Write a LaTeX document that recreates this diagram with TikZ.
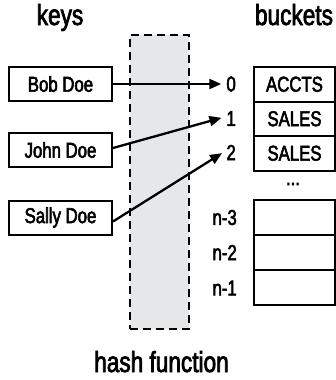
\documentclass[tikz,border=0pt]{standalone}
\usepackage{fontspec}
\setmainfont{Liberation Sans}[FakeStretch=0.78,FakeBold=2.5]
\usetikzlibrary{arrows.meta}
\definecolor{hashgray}{HTML}{E6E7E8}
\begin{document}
\begin{tikzpicture}[x=1pt,y=-1pt,
  keybox/.style={draw,line width=2pt,minimum width=103pt,minimum height=34pt,inner sep=0pt,font=\fontsize{21.5}{23}\selectfont},
  bucket/.style={draw,line width=2pt,minimum width=81pt,minimum height=34.5pt,inner sep=0pt,font=\fontsize{21.5}{23}\selectfont},
  idx/.style={anchor=east,inner sep=0pt,font=\fontsize{21.5}{23}\selectfont},
  heading/.style={anchor=base,inner sep=0pt,font=\fontsize{29}{31}\selectfont},
  link/.style={line width=2.3pt,-{Triangle[length=12pt,width=10pt]},shorten >=5pt}]
\useasboundingbox (0,0) rectangle (336,380);
% hash function column
\node[draw,dashed,dash pattern=on 8pt off 5pt,line width=1.6pt,fill=hashgray,minimum width=59pt,minimum height=294pt,inner sep=0pt] (hash) at (159.5,182) {};
% headings
\node[heading] (keys) at (60,25) {keys};
\node[heading] (buckets) at (294,25) {buckets};
\node[heading] (hf) at (161.5,372) {hash function};
% keys
\node[keybox] (bob) at (60.5,84) {Bob Doe};
\node[keybox] (john) at (60.5,150) {John Doe};
\node[keybox] (sally) at (60.5,217.5) {Sally Doe};
% indices
\node[idx] (i0) at (236,84) {0};
\node[idx] (i1) at (236,118.5) {1};
\node[idx] (i2) at (236,152.5) {2};
\node[idx] (in3) at (237,217.5) {n-3};
\node[idx] (in2) at (237,252.5) {n-2};
\node[idx] (in1) at (237,288) {n-1};
% buckets
\node[bucket] (b0) at (294.5,84.25) {ACCTS};
\node[bucket] (b1) at (294.5,118.75) {SALES};
\node[bucket] (b2) at (294.5,153.25) {SALES};
\node[inner sep=0pt,font=\fontsize{21.5}{23}\selectfont] (dots) at (293,184) {...};
\node[bucket,minimum height=35pt] (bn3) at (294.5,217.5) {};
\node[bucket,minimum height=35pt] (bn2) at (294.5,252.5) {};
\node[bucket,minimum height=35pt] (bn1) at (294.5,287.75) {};
% arrows
\draw[link] (bob.east) -- (i0.west);
\draw[link] ([yshift=2pt]john.east) -- ([yshift=2pt]i1.west);
\draw[link] ([yshift=-4pt]sally.east) -- ([yshift=2pt]i2.west);
\end{tikzpicture}
\end{document}
